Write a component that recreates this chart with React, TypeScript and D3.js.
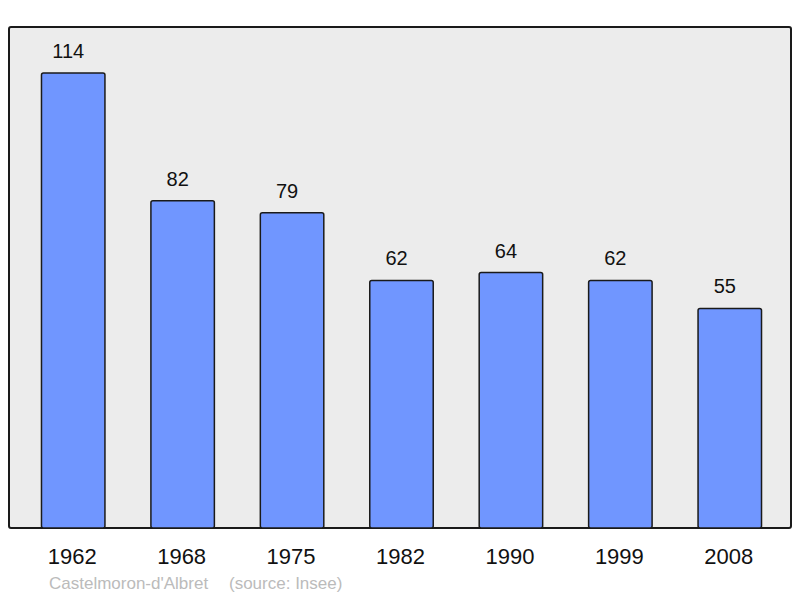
import React from "react";
import * as d3 from "d3";

const years = ["1962", "1968", "1975", "1982", "1990", "1999", "2008"];
const population = [114, 82, 79, 62, 64, 62, 55];
const sourceLabel = "Castelmoron-d'Albret";
const sourceNote = "(source: Insee)";

const W = 800;
const H = 598;
const panel = { x0: 9, y0: 27, x1: 791, y1: 528 };

export default function App() {
  const x = d3
    .scaleBand<string>()
    .domain(years)
    .range([18.5, 784.5])
    .paddingInner(0.42)
    .paddingOuter(0.21);
  const y = d3.scaleLinear().domain([0, 125.5]).range([panel.y1, panel.y0]);

  return (
    <div style={{ position: "absolute", left: 0, top: 0 }}>
      <svg width={W} height={H} style={{ display: "block", fontFamily: "'Liberation Sans', Arial, sans-serif" }}>
        <rect width={W} height={H} fill="#ffffff" />
        <rect
          x={panel.x0}
          y={panel.y0}
          width={panel.x1 - panel.x0}
          height={panel.y1 - panel.y0}
          fill="#ececec"
          stroke="#1a1a1a"
          strokeWidth={2}
          rx={2}
        />
        {years.map((yr, i) => {
          const bx = x(yr)!;
          const bw = x.bandwidth();
          const top = y(population[i]);
          return (
            <g key={yr}>
              <rect
                x={bx}
                y={top}
                width={bw}
                height={panel.y1 - top}
                fill="#7096ff"
                stroke="#1a1a1a"
                strokeWidth={1.5}
                rx={2}
              />
              <text x={bx + bw / 2 - 5} y={top - 15} textAnchor="middle" fontSize={20} fill="#111">
                {population[i]}
              </text>
              <text x={bx + bw / 2 - 1} y={564} textAnchor="middle" fontSize={22} fill="#111">
                {yr}
              </text>
            </g>
          );
        })}
        <text x={49} y={589} fontSize={17} fill="#bbbbbb">
          {sourceLabel}
        </text>
        <text x={229} y={589} fontSize={17} fill="#bbbbbb">
          {sourceNote}
        </text>
      </svg>
    </div>
  );
}
